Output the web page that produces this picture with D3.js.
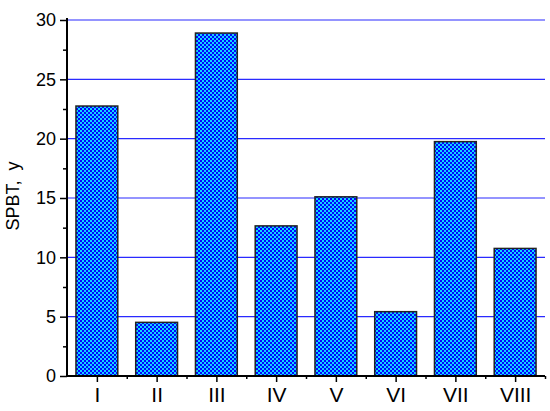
<!DOCTYPE html>
<html><head><meta charset="utf-8">
<script src="https://cdn.jsdelivr.net/npm/d3@7"></script>
<style>body{margin:0;background:#fff}svg{display:block}text{font-family:Arial,"Liberation Sans",sans-serif;fill:#000}</style>
</head><body><svg id="c" width="550" height="411"></svg>
<script>
const categories = ["I","II","III","IV","V","VI","VII","VIII"];
const values = [22.75, 4.52, 28.9, 12.65, 15.1, 5.42, 19.75, 10.75];
const yTicks = [0,5,10,15,20,25,30];
const yMinorTicks = [2.5,7.5,12.5,17.5,22.5,27.5];
const yLabel = "SPBT,  y";

const svg = d3.select("#c");
const x = d3.scaleLinear().domain([0.5, 8.5]).range([67, 545]);
const y = d3.scaleLinear().domain([0, 30]).range([376, 20]);

// pixel pattern: blue blobs on cyan, diagonal lattice
const defs = svg.append("defs");
const pat = defs.append("pattern").attr("id","hatch").attr("patternUnits","userSpaceOnUse")
  .attr("width",4).attr("height",4);
pat.append("rect").attr("width",4).attr("height",4).attr("fill","#10d4ff").attr("shape-rendering","crispEdges");
const px = [[0,0],[1,0],[0,1],[1,1],[2,2],[3,2],[2,3],[3,3]];
pat.selectAll("rect.p").data(px).join("rect").attr("class","p")
  .attr("x",d=>d[0]).attr("y",d=>d[1]).attr("width",1).attr("height",1)
  .attr("fill","#0404ff").attr("shape-rendering","crispEdges");

// gridlines
svg.append("g").selectAll("line").data(yTicks.filter(d=>d>0)).join("line")
  .attr("x1",x(0.5)).attr("x2",x(8.5)).attr("y1",d=>y(d)).attr("y2",d=>y(d))
  .attr("stroke","#2a2aff").attr("stroke-width",1.2);

// bars
const bw = 0.7*(x(2)-x(1));
svg.append("g").selectAll("rect").data(values).join("rect")
  .attr("x",(d,i)=>x(i+1)-bw/2).attr("width",bw)
  .attr("y",d=>y(d)).attr("height",d=>y(0)-y(d))
  .attr("fill","url(#hatch)").attr("stroke","#222").attr("stroke-width",1.5);

// y axis
const ya = svg.append("g").attr("transform",`translate(${x(0.5)},0)`)
  .call(d3.axisLeft(y).tickValues(yTicks).tickSize(7).tickPadding(4).tickFormat(d3.format("d")));
ya.select(".domain").remove();
ya.selectAll("text").attr("font-size",18).style("font-family","Arial,'Liberation Sans',sans-serif");
ya.selectAll("line").attr("stroke-width",1.5);
svg.append("g").attr("transform",`translate(${x(0.5)},0)`)
  .call(d3.axisLeft(y).tickValues(yMinorTicks).tickSize(4).tickFormat(""))
  .call(g=>g.select(".domain").remove()).selectAll("line").attr("stroke-width",1.5);

// x axis
const xa = svg.append("g").attr("transform",`translate(0,${y(0)})`)
  .call(d3.axisBottom(x).tickValues(d3.range(1,9)).tickSize(6).tickPadding(5).tickFormat((d,i)=>categories[i]));
xa.select(".domain").remove();
xa.selectAll("text").attr("font-size",21).style("font-family","Arial,'Liberation Sans',sans-serif");
xa.selectAll("line").attr("stroke-width",1.5);
svg.append("g").attr("transform",`translate(0,${y(0)})`)
  .call(d3.axisBottom(x).tickValues(d3.range(1.5,9,1)).tickSize(3).tickFormat(""))
  .call(g=>g.select(".domain").remove()).selectAll("line").attr("stroke-width",1.5);

// axis lines
svg.append("line").attr("x1",x(0.5)).attr("x2",x(0.5)).attr("y1",y(0)+1).attr("y2",18).attr("stroke","#000").attr("stroke-width",2);
svg.append("line").attr("x1",x(0.5)-1).attr("x2",x(8.5)).attr("y1",y(0)).attr("y2",y(0)).attr("stroke","#000").attr("stroke-width",2);

svg.append("text").attr("transform","translate(19,196) rotate(-90)").attr("text-anchor","middle")
  .attr("font-size",18).style("white-space","pre").attr("xml:space","preserve").text(yLabel);
</script></body></html>
